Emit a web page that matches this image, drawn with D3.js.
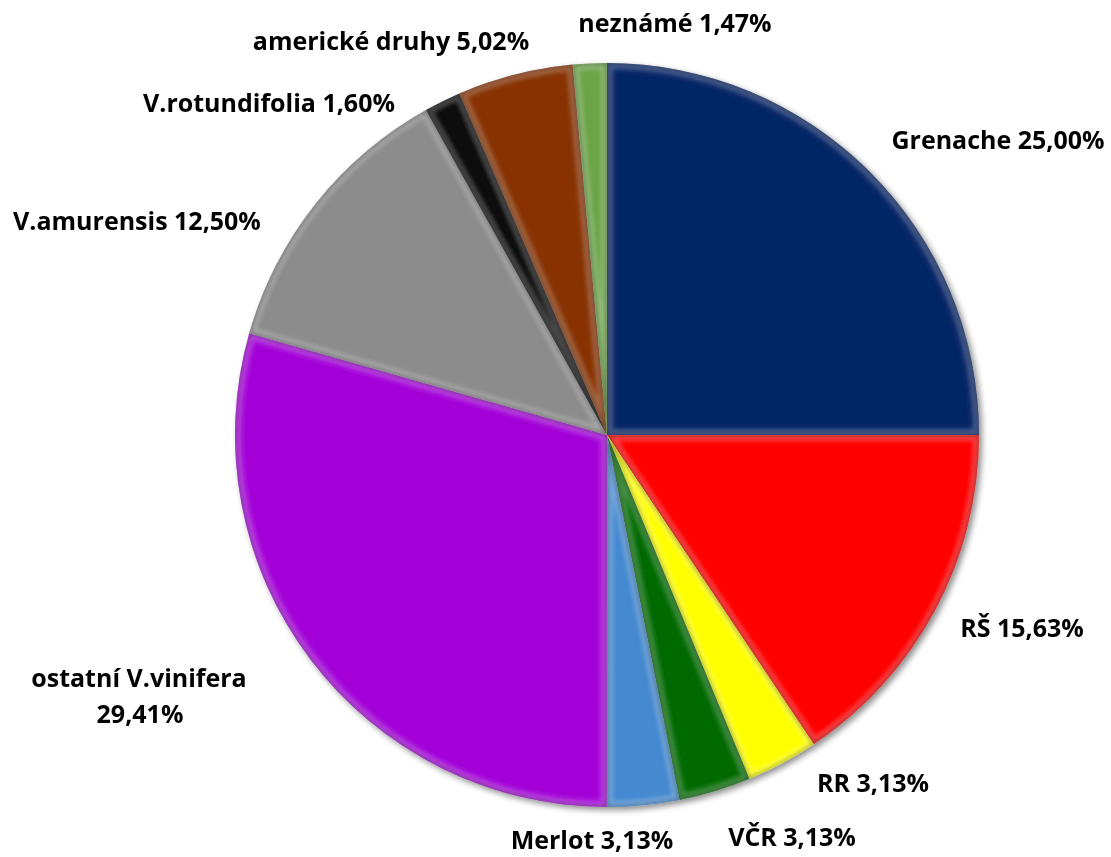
<!DOCTYPE html>
<html><head><meta charset="utf-8">
<script src="https://cdn.jsdelivr.net/npm/d3@7"></script>
<style>body{margin:0;background:#fff}svg{display:block}text{font-family:"Open Sans",Lato,sans-serif;font-weight:bold;fill:#000}</style>
</head><body>
<svg id="c" width="1111" height="857"></svg>
<script>
const categories = ["Grenache","RŠ","RR","VČR","Merlot","ostatní V.vinifera","V.amurensis","V.rotundifolia","americké druhy","neznámé"];
const values = [25.00,15.63,3.13,3.13,3.13,29.41,12.50,1.60,5.02,1.47];
const valueLabels = ["25,00%","15,63%","3,13%","3,13%","3,13%","29,41%","12,50%","1,60%","5,02%","1,47%"];
const colors = ["#062566","#ff0000","#ffff00","#036b03","#4489d0","#a304d8","#8c8c8c","#0a0a0a","#873303","#6aa446"];
// label layout: [centre x, baseline y]
const labelPos = [[998,149],[1022,637],[873,792],[792,846],[592,849],[139,687],[137,230],[269,112],[391,50],[675,32]];

const svg = d3.select("#c");
const cx = 607, cy = 435, R = 372;
const defs = svg.append("defs");
const f = defs.append("filter").attr("id","sh").attr("x","-10%").attr("y","-10%").attr("width","120%").attr("height","120%");
f.append("feGaussianBlur").attr("in","SourceAlpha").attr("stdDeviation",3).attr("result","b");
f.append("feOffset").attr("in","b").attr("dx",3).attr("dy",3).attr("result","o");
f.append("feComponentTransfer").attr("in","o").attr("result","o2").append("feFuncA").attr("type","linear").attr("slope",0.45);
const m = f.append("feMerge"); m.append("feMergeNode").attr("in","o2"); m.append("feMergeNode").attr("in","SourceGraphic");
defs.append("filter").attr("id","bl").append("feGaussianBlur").attr("stdDeviation",2.2);

const pie = d3.pie().sort(null).value(d=>d)(values);
const arc = d3.arc().innerRadius(0).outerRadius(R);
const g = svg.append("g").attr("transform",`translate(${cx},${cy})`);
const gs = g.append("g").attr("filter","url(#sh)");
pie.forEach((p,i)=>{
  defs.append("clipPath").attr("id","cl"+i).append("path").attr("d",arc(p));
  const sg = gs.append("g");
  sg.append("path").attr("d",arc(p)).attr("fill",colors[i]);
  const hg = sg.append("g").attr("clip-path",`url(#cl${i})`);
  hg.append("path").attr("d",arc(p)).attr("fill","none").attr("filter","url(#bl)")
    .attr("stroke","#fff").attr("stroke-opacity",0.25).attr("stroke-width",12);
  hg.append("path").attr("d",arc(p)).attr("fill","none").attr("filter","url(#bl)")
    .attr("stroke","#000").attr("stroke-opacity",0.35).attr("stroke-width",3);
});

pie.forEach((p,i)=>{
  const [x,y] = labelPos[i];
  if (i===5) {
    svg.append("text").attr("x",x).attr("y",y).attr("text-anchor","middle").attr("font-size",25).text(categories[i]);
    svg.append("text").attr("x",x+1).attr("y",y+36).attr("text-anchor","middle").attr("font-size",25).text(valueLabels[i]);
  } else {
    svg.append("text").attr("x",x).attr("y",y).attr("text-anchor","middle").attr("font-size",25)
      .text(categories[i]+" "+valueLabels[i]);
  }
});
</script>
</body></html>
